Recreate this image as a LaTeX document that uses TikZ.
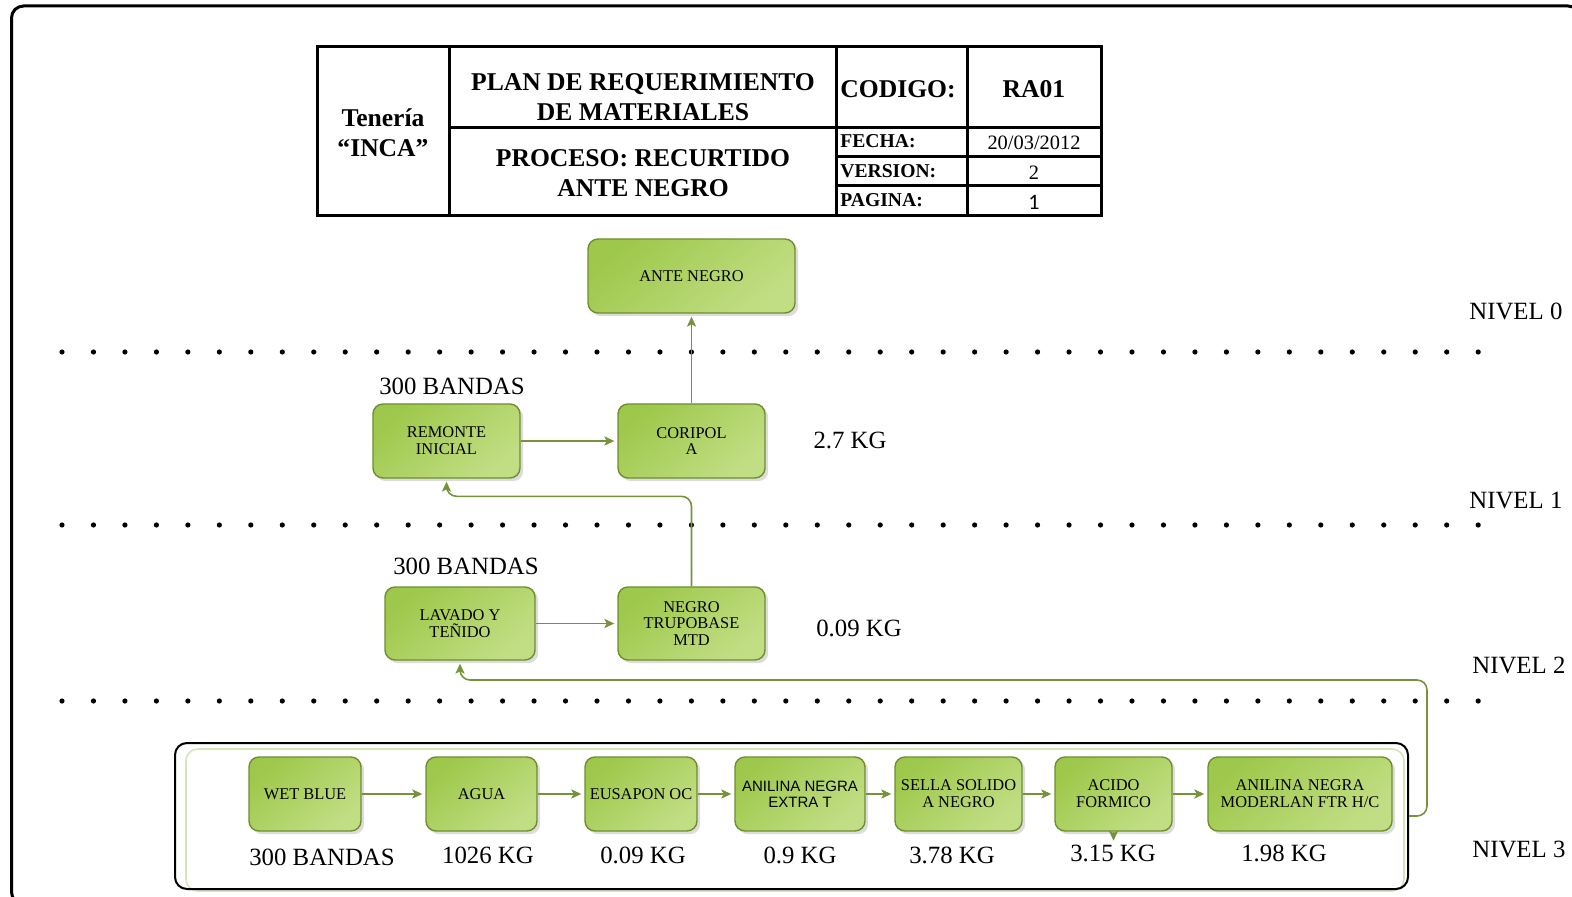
\documentclass[tikz,border=0pt]{standalone}
\usepackage{fontspec}
\setmainfont{Liberation Serif}
\newfontfamily\sansfam{Liberation Sans}
\newfontfamily\calfam{Carlito}
\usetikzlibrary{arrows.meta,shadows}
\definecolor{gA}{HTML}{9EC84B}
\definecolor{gB}{HTML}{C2DE85}
\definecolor{gEdge}{HTML}{6E8E2E}
\definecolor{lineG}{HTML}{76933C}
\definecolor{ghost}{HTML}{D6E4BC}
\begin{document}
\begin{tikzpicture}[x=0.5pt,y=-0.5pt,
  gbox/.style={rectangle, rounded corners=5pt, draw=gEdge, line width=0.7pt,
    top color=gA, bottom color=gB, shading angle=40,
    drop shadow={shadow xshift=1.6pt, shadow yshift=-1.6pt, fill=black!30, opacity=0.45},
    align=center, inner sep=1pt, font=\fontsize{8.2}{8.4}\selectfont},
  conn/.style={draw=lineG, line width=0.8pt,
    -{Stealth[length=5pt,width=4.6pt,inset=1.2pt]}, shorten >=1.5pt},
  lbl/.style={font=\fontsize{12.4}{14}\selectfont, inner sep=0pt},
  hdr/.style={font=\bfseries\fontsize{12.8}{15}\selectfont, align=center, inner sep=0pt},
  small/.style={font=\bfseries\fontsize{9.8}{11}\selectfont, inner sep=0pt, anchor=west},
  val/.style={font=\fontsize{10.2}{11}\selectfont, inner sep=0pt},
  tbl/.style={line width=1.5pt},
  dotrow/.style={fill=black}]

\useasboundingbox (0,0) rectangle (1572,897);

% outer frame of the sheet
\draw[line width=1.5pt, rounded corners=6pt] (11.5,6) rectangle (1580,904);

% ---------- header table ----------
\draw[tbl] (317,47) rectangle (1101,216);
\draw[tbl] (449,47) -- (449,216);
\draw[tbl] (836,47) -- (836,216);
\draw[tbl] (967,47) -- (967,216);
\draw[tbl] (449,128) -- (1101,128);
\draw[tbl] (836,157) -- (1101,157);
\draw[tbl] (836,186) -- (1101,186);

\node[hdr] (inca) at (383,133) {Tenería\\“INCA”};
\node[hdr] (plan) at (643,97) {PLAN DE REQUERIMIENTO\\DE MATERIALES};
\node[hdr] (proc) at (643,173) {PROCESO: RECURTIDO\\ANTE NEGRO};
\node[hdr, anchor=west] (cod) at (840,89) {CODIGO:};
\node[hdr] (ra) at (1034,89) {RA01};
\node[small] (fecha) at (840,141) {FECHA:};
\node[val] (fval) at (1034,143) {20/03/2012};
\node[small] (ver) at (840,171) {VERSION:};
\node[val] (vval) at (1034,173) {2};
\node[small] (pag) at (840,200) {PAGINA:};
\node[val, font=\calfam\fontsize{11}{12}\selectfont] (pval) at (1034,202) {1};

% ---------- level separators ----------
\foreach \yy in {352,525,701}
  \foreach \i in {0,...,45}
    \fill[dotrow] (62+\i*31.47,\yy) circle (1.3pt);

\node[lbl, anchor=west] (n0) at (1469,311) {NIVEL 0};
\node[lbl, anchor=west] (n1) at (1469,501) {NIVEL 1};
\node[lbl, anchor=west] (n2) at (1472,665) {NIVEL 2};
\node[lbl, anchor=west] (n3) at (1472,849) {NIVEL 3};

% ---------- level 0 ----------
\node[gbox, minimum width=103.5pt, minimum height=37pt] (ante) at (691.5,276) {ANTE NEGRO};

% ---------- level 1 ----------
\node[gbox, minimum width=73.5pt, minimum height=37pt] (remonte) at (446.5,441) {REMONTE\\INICIAL};
\node[gbox, minimum width=73.5pt, minimum height=37pt] (coripol) at (691.5,441) {CORIPOL\\A};
\node[lbl] (b1) at (452,386) {300 BANDAS};
\node[lbl] (k1) at (850,440) {2.7 KG};

% ---------- level 2 ----------
\node[gbox, minimum width=75pt, minimum height=36.5pt] (lavado) at (460,623.5) {LAVADO Y\\TEÑIDO};
\node[gbox, minimum width=73.5pt, minimum height=36.5pt] (negro) at (691.5,623.5) {NEGRO\\TRUPOBASE\\MTD};
\node[lbl] (b2) at (466,566) {300 BANDAS};
\node[lbl] (k2) at (859,628) {0.09 KG};

% ---------- level 3 group ----------
\draw[ghost, line width=0.8pt, rounded corners=6pt] (186,749) rectangle (1404,891);
\node[draw=black, line width=1pt, rounded corners=6pt, minimum width=616.5pt, minimum height=73pt, inner sep=0pt] (grp) at (791.5,816) {};

\node[gbox, minimum width=56pt, minimum height=37pt] (wet) at (305,794) {WET BLUE};
\node[gbox, minimum width=55.5pt, minimum height=37pt] (agua) at (481.5,794) {AGUA};
\node[gbox, minimum width=56pt, minimum height=37pt] (eus) at (641,794) {EUSAPON OC};
\node[gbox, minimum width=65pt, minimum height=37pt, font=\sansfam\fontsize{7.5}{8.2}\selectfont] (extra) at (800,794) {ANILINA NEGRA\\EXTRA T};
\node[gbox, minimum width=63.5pt, minimum height=37pt] (sella) at (958.5,794) {SELLA SOLIDO\\A NEGRO};
\node[gbox, minimum width=58.5pt, minimum height=37pt] (acido) at (1113.5,794) {ACIDO\\FORMICO};
\node[gbox, minimum width=92pt, minimum height=37pt] (moder) at (1300,794) {ANILINA NEGRA\\MODERLAN FTR H/C};

\node[lbl] (q1) at (322,857) {300 BANDAS};
\node[lbl] (q2) at (488,855) {1026 KG};
\node[lbl] (q3) at (643,855) {0.09 KG};
\node[lbl] (q4) at (800,855) {0.9 KG};
\node[lbl] (q5) at (952,855) {3.78 KG};
\node[lbl] (q6) at (1113,853) {3.15 KG};
\node[lbl] (q7) at (1284,853) {1.98 KG};

% ---------- connectors ----------
\draw[conn] (coripol.north) -- (ante.south);
\draw[conn] (remonte.east) -- (coripol.west);
\draw[conn, rounded corners=5pt] (negro.north) -- ++(0,-90) -| (remonte.south);
\draw[conn] (lavado.east) -- (negro.west);
\draw[conn, rounded corners=5pt] (grp.east) -| (1427,680) -| (lavado.south);

\draw[conn] (wet.east) -- (agua.west);
\draw[conn] (agua.east) -- (eus.west);
\draw[conn] (eus.east) -- (extra.west);
\draw[conn] (extra.east) -- (sella.west);
\draw[conn] (sella.east) -- (acido.west);
\draw[conn] (acido.east) -- (moder.west);
\draw[conn, shorten >=0pt] (acido.south) -- ++(0,9);
\end{tikzpicture}
\end{document}
